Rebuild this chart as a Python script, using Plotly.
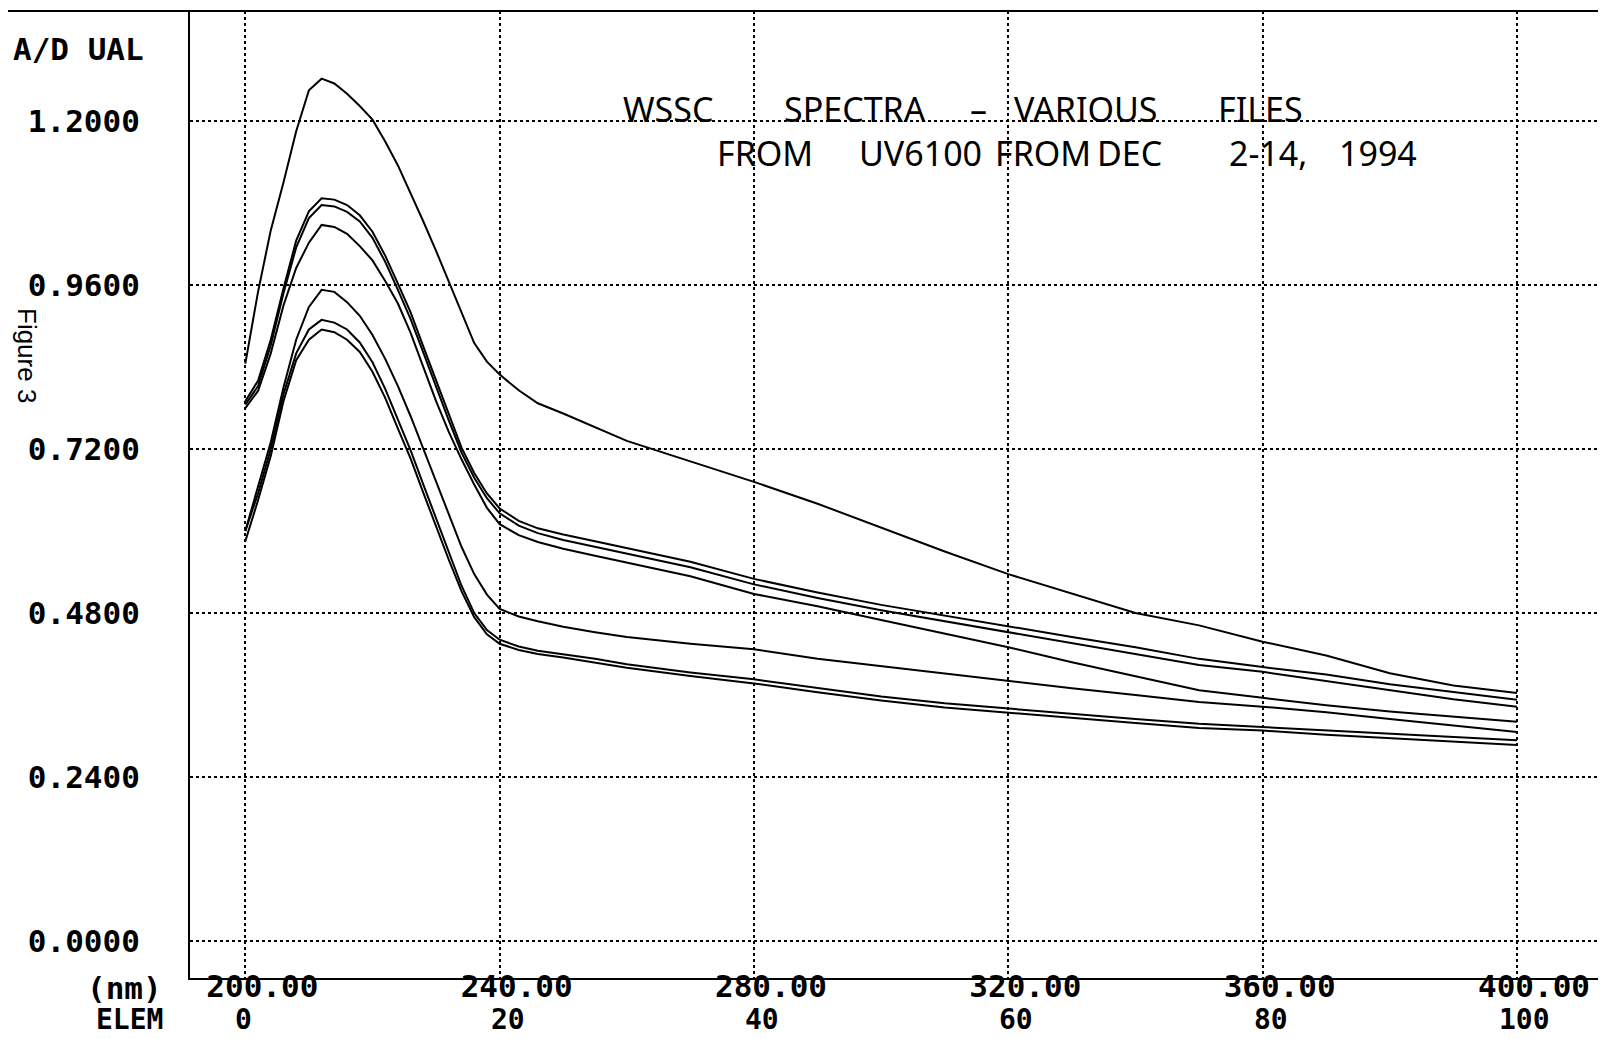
import plotly.graph_objects as go

# ---------------- data ----------------
wavelength_nm = [200, 202, 204, 206, 208, 210, 212, 214, 216, 218, 220, 222, 224, 226, 228,
                 230, 232, 234, 236, 238, 240, 243, 246, 250, 255, 260, 270, 280, 290, 300,
                 310, 320, 330, 340, 350, 360, 370, 380, 390, 400]

spec_a = [0.845, 0.950, 1.040, 1.110, 1.185, 1.245, 1.262, 1.255, 1.240, 1.222, 1.202, 1.170,
          1.135, 1.095, 1.053, 1.010, 0.965, 0.920, 0.875, 0.848, 0.829, 0.806, 0.787, 0.772,
          0.752, 0.732, 0.702, 0.672, 0.640, 0.605, 0.570, 0.537, 0.508, 0.480, 0.462, 0.438,
          0.418, 0.392, 0.374, 0.363]
spec_b1 = [0.790, 0.820, 0.880, 0.955, 1.025, 1.068, 1.087, 1.085, 1.077, 1.062, 1.038, 1.003,
           0.962, 0.920, 0.870, 0.820, 0.770, 0.722, 0.685, 0.655, 0.633, 0.615, 0.604, 0.595,
           0.585, 0.575, 0.555, 0.530, 0.510, 0.492, 0.476, 0.461, 0.445, 0.430, 0.413, 0.401,
           0.390, 0.376, 0.364, 0.353]
spec_b2 = [0.785, 0.812, 0.872, 0.948, 1.015, 1.058, 1.077, 1.075, 1.067, 1.053, 1.029, 0.994,
           0.953, 0.910, 0.861, 0.811, 0.762, 0.715, 0.678, 0.648, 0.626, 0.608, 0.597, 0.587,
           0.577, 0.567, 0.547, 0.522, 0.502, 0.484, 0.468, 0.452, 0.437, 0.420, 0.404, 0.394,
           0.381, 0.367, 0.354, 0.343]
spec_c = [0.780, 0.805, 0.860, 0.930, 0.985, 1.022, 1.048, 1.045, 1.035, 1.017, 0.996, 0.966,
          0.933, 0.890, 0.840, 0.790, 0.745, 0.705, 0.668, 0.634, 0.610, 0.594, 0.584, 0.574,
          0.564, 0.554, 0.534, 0.508, 0.490, 0.470, 0.450, 0.430, 0.408, 0.387, 0.367, 0.356,
          0.345, 0.336, 0.328, 0.321]
spec_d = [0.600, 0.665, 0.730, 0.810, 0.880, 0.928, 0.953, 0.950, 0.935, 0.915, 0.887, 0.852,
          0.812, 0.768, 0.720, 0.670, 0.625, 0.577, 0.537, 0.507, 0.486, 0.475, 0.468, 0.460,
          0.452, 0.445, 0.435, 0.427, 0.413, 0.402, 0.392, 0.380, 0.370, 0.360, 0.350, 0.343,
          0.335, 0.325, 0.315, 0.306]
spec_e = [0.600, 0.655, 0.720, 0.800, 0.860, 0.895, 0.909, 0.905, 0.895, 0.876, 0.847, 0.808,
          0.763, 0.718, 0.668, 0.618, 0.568, 0.520, 0.480, 0.455, 0.441, 0.431, 0.425, 0.420,
          0.413, 0.405, 0.393, 0.383, 0.370, 0.358, 0.348, 0.340, 0.332, 0.325, 0.318, 0.313,
          0.308, 0.303, 0.298, 0.294]
spec_f = [0.585, 0.645, 0.710, 0.790, 0.850, 0.880, 0.895, 0.891, 0.880, 0.862, 0.833, 0.795,
          0.750, 0.706, 0.656, 0.606, 0.558, 0.512, 0.474, 0.449, 0.435, 0.426, 0.420, 0.415,
          0.408, 0.400, 0.388, 0.377, 0.364, 0.352, 0.342, 0.334, 0.326, 0.319, 0.312, 0.308,
          0.302, 0.297, 0.292, 0.287]

series = [spec_a, spec_b1, spec_b2, spec_c, spec_d, spec_e, spec_f]

x_ticks = [200, 240, 280, 320, 360, 400]
x_tick_text = ["200.00", "240.00", "280.00", "320.00", "360.00", "400.00"]
y_ticks = [0.0, 0.24, 0.48, 0.72, 0.96, 1.20]
y_tick_text = ["0.0000", "0.2400", "0.4800", "0.7200", "0.9600", "1.2000"]
elem_ticks = [0, 20, 40, 60, 80, 100]

# ---------------- figure ----------------
OFF = 8                      # page body margin of the html page
W, H = 1606 - OFF, 1039 - OFF
L, T, R, B = 190 - OFF, 11 - OFF, 0, 61
PW, PH = W - L - R, H - T - B


def px_x(x):                 # page pixel -> paper coordinate
    return (x - OFF - L) / PW


def px_y(y):
    return 1 - (y - OFF - T) / PH


mono = dict(family="DejaVu Sans Mono", size=31, color="black", weight="bold")
mono_low = dict(family="DejaVu Sans Mono", size=28, color="black", weight="bold")
hand = dict(family="Noto Sans", size=34, color="black")

fig = go.Figure()
for s in series:
    fig.add_trace(go.Scatter(x=wavelength_nm, y=s, mode="lines",
                             line=dict(color="black", width=2), showlegend=False,
                             hoverinfo="skip"))

fig.update_layout(
    width=W, height=H,
    margin=dict(l=L, r=R, t=T, b=B),
    paper_bgcolor="white", plot_bgcolor="white",
    showlegend=False,
    xaxis=dict(range=[191.3, 414.0], tickvals=x_ticks, ticktext=x_tick_text,
               showgrid=True, gridcolor="black", griddash="dot", gridwidth=1.5,
               showline=True, linecolor="black", linewidth=2, zeroline=False,
               ticks="", tickfont=mono, ticklabelshift=17, ticklabelstandoff=-20),
    yaxis=dict(range=[-0.054, 1.361], tickvals=y_ticks, ticktext=y_tick_text,
               showgrid=True, gridcolor="black", griddash="dot", gridwidth=1.5,
               showline=True, linecolor="black", linewidth=2, zeroline=False,
               ticks="", tickfont=mono, ticklabelstandoff=42),
)

# top border extending to the left edge
fig.add_shape(type="line", xref="paper", yref="paper",
              x0=px_x(OFF), x1=1.0, y0=1.0, y1=1.0,
              line=dict(color="black", width=2))

ann = []
ann.append(dict(text="A/D UAL", x=px_x(11), y=px_y(49), xanchor="left", yanchor="middle", font=mono))
ann.append(dict(text="(nm)", x=px_x(164), y=px_y(988), xanchor="right", yanchor="middle", font=mono))
ann.append(dict(text="ELEM", x=px_x(164), y=px_y(1019), xanchor="right", yanchor="middle",
                font=mono_low, borderpad=0))
ann.append(dict(text="Figure 3", x=px_x(27), y=px_y(355), xanchor="center", yanchor="middle",
                textangle=90, font=dict(family="Liberation Sans", size=26, color="black")))

# handwritten title
for txt, cx in [("WSSC", 668), ("SPECTRA", 855), ("–", 978), ("VARIOUS", 1086), ("FILES", 1260)]:
    ann.append(dict(text=txt, x=px_x(cx), y=px_y(109), xanchor="center", yanchor="middle", font=hand))
for txt, cx in [("FROM", 765), ("UV6100", 920), ("FROM", 1043), ("DEC", 1129),
                ("2-14,", 1268), ("1994", 1378)]:
    ann.append(dict(text=txt, x=px_x(cx), y=px_y(153), xanchor="center", yanchor="middle", font=hand))

for a in ann:
    a.update(xref="paper", yref="paper", showarrow=False)
    fig.add_annotation(**a)

# ELEM index labels under the wavelength axis
for e in elem_ticks:
    fig.add_annotation(text=str(e), x=200 + 2 * e, xref="x", y=px_y(1019), yref="paper",
                       xshift=(8 if e > 0 else -2), showarrow=False, borderpad=0,
                       xanchor="center", yanchor="middle", font=mono_low)

fig.write_html("out.html")
